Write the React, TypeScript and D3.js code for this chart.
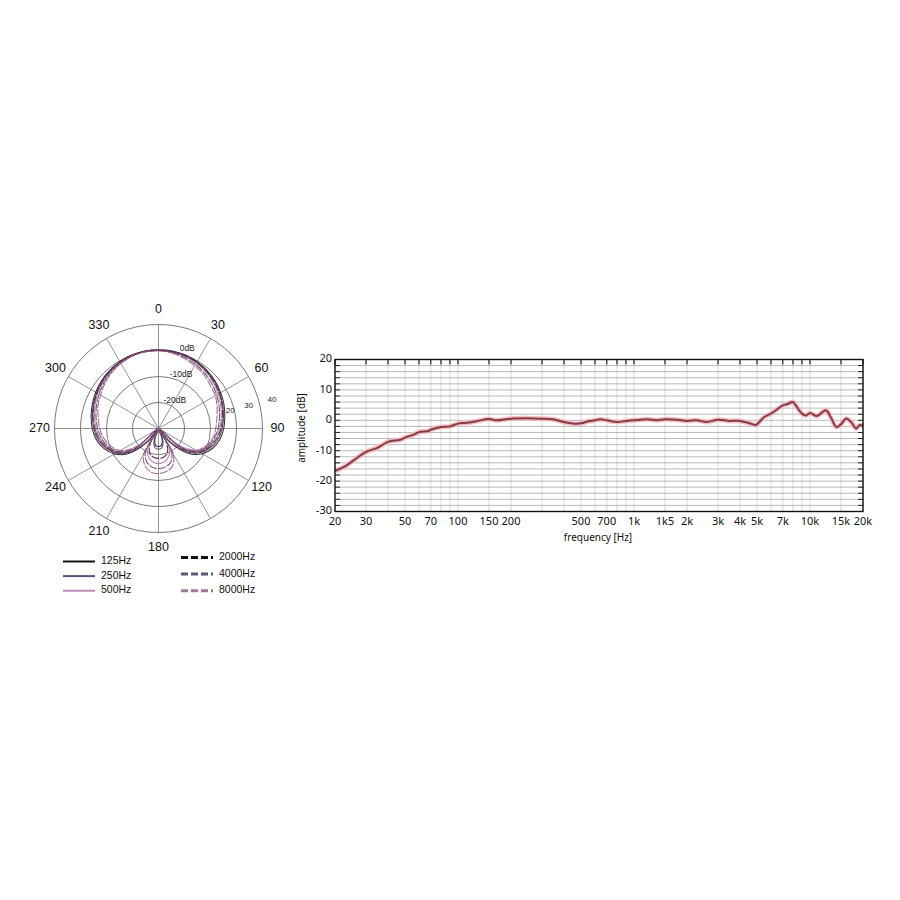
import React from "react";
import * as d3 from "d3";

// ---------- Polar data ----------
const polarAngles = d3.range(0, 360, 10);
const polarSeriesNames = ["125Hz", "250Hz", "500Hz", "2000Hz", "4000Hz", "8000Hz"];
const polar125 = [0.3, 0.3, 0.1, -0.3, -0.9, -1.6, -2.4, -3.2, -4.1, -4.9, -6.0, -7.8, -10.6, -15.2, -23, -30, -26, -23.5, -23, -23.5, -26, -30, -23, -15.0, -10.4, -7.6, -5.7, -4.5, -3.7, -2.9, -2.1, -1.4, -0.8, -0.3, 0.1, 0.3];
const polar250 = [0.2, 0.2, 0, -0.5, -1.1, -1.9, -2.8, -3.7, -4.6, -5.5, -6.7, -8.6, -11.4, -16.2, -24, -30, -25, -22.5, -22, -22.5, -25, -30, -24, -16.0, -11.2, -8.3, -6.3, -5.1, -4.2, -3.3, -2.5, -1.7, -1.0, -0.4, 0, 0.2];
const polar500 = [0, -0.1, -0.4, -0.9, -1.6, -2.5, -3.5, -4.5, -5.5, -6.5, -7.8, -9.6, -12.4, -18, -30, -22, -18.5, -17, -16.5, -17, -18.5, -22, -30, -17.5, -12.0, -9.2, -7.3, -6.0, -5.0, -4.0, -3.0, -2.1, -1.3, -0.6, -0.2, 0];
const polar2000 = [0.1, 0, -0.2, -0.7, -1.3, -2.1, -3.0, -4.0, -5.0, -6.0, -7.3, -9.2, -12.0, -17.5, -30, -24, -20, -18.8, -18.5, -18.8, -20, -24, -30, -17.0, -11.6, -8.8, -6.8, -5.5, -4.5, -3.6, -2.7, -1.9, -1.1, -0.5, -0.1, 0.1];
const polar4000 = [0, -0.3, -0.8, -1.5, -2.3, -3.2, -4.2, -5.2, -6.2, -7.1, -8.3, -10.0, -12.8, -19, -30, -20, -16.2, -15, -14.6, -15, -16.5, -20, -30, -18.5, -12.5, -9.6, -7.8, -6.6, -5.6, -4.6, -3.6, -2.6, -1.7, -0.9, -0.3, 0];
const polar8000 = [-0.2, -0.5, -1.3, -2.2, -2.9, -4.1, -4.8, -6.0, -7.2, -8.0, -8.8, -10.6, -13.2, -20, -30, -18.5, -14.5, -13.2, -12.7, -13.0, -14.8, -18.5, -30, -19.5, -13.0, -10.4, -8.6, -7.4, -6.5, -5.2, -4.3, -3.1, -2.0, -1.1, -0.4, -0.1];
const polarValues = [polar125, polar250, polar500, polar2000, polar4000, polar8000];
const polarColors = ["#2a1825", "#4a3e5e", "#b07aa6", "#4a2238", "#5e4870", "#a05c88"];
const legendColors = ["#111111", "#4f5a78", "#c08ab8", "#111111", "#555a78", "#a07898"];
const polarDashed = [false, false, false, true, true, true];
const ringLevels = [-20, -10, 0, 10];
const ringLabels = ["-20dB", "-10dB", "0dB"];
const angleLabels = [0, 30, 60, 90, 120, 180, 210, 240, 270, 300, 330];
const sideLabels = ["20", "30", "40"];

// ---------- Frequency response data ----------
const freqs = [20, 23.3, 26.6, 30, 35, 40, 47, 50, 56, 60, 68, 70, 80, 90, 100, 112, 127, 150, 166, 200, 245, 300, 346, 400, 462, 500, 552, 600, 641, 700, 800, 900, 1000, 1180, 1350, 1500, 1750, 2000, 2270, 2590, 3000, 3490, 4000, 4600, 4900, 5000, 5500, 6000, 6400, 7000, 7400, 8000, 8300, 9000, 9500, 10000, 10900, 12300, 13100, 14100, 15000, 16000, 17100, 18300, 19100, 20000];
const amps = [-16.7, -14.8, -12.4, -10.4, -9.0, -7.1, -6.4, -5.7, -4.7, -3.9, -3.5, -3.1, -2.2, -2.0, -1.1, -0.8, -0.3, 0.4, 0, 0.55, 0.66, 0.55, 0.33, -0.55, -1.1, -1.0, -0.33, 0, 0.33, 0, -0.55, -0.2, 0, 0.33, 0, 0.33, 0.2, -0.2, 0, -0.55, 0.2, -0.2, -0.2, -1.1, -1.6, -1.3, 1.1, 2.2, 3.3, 4.9, 5.3, 6.0, 4.9, 2.2, 1.6, 2.4, 1.4, 3.3, 1.1, -2.2, -1.3, 0.55, -0.55, -2.7, -1.6, -1.8];
const gridFreqs = [20, 30, 40, 50, 60, 70, 80, 90, 100, 150, 200, 300, 400, 500, 600, 700, 800, 900, 1000, 1500, 2000, 3000, 4000, 5000, 6000, 7000, 8000, 9000, 10000, 15000, 20000];
const xTickFreqs = [20, 30, 50, 70, 100, 150, 200, 500, 700, 1000, 1500, 2000, 3000, 4000, 5000, 7000, 10000, 15000, 20000];
const xTickLabels = ["20", "30", "50", "70", "100", "150", "200", "500", "700", "1k", "1k5", "2k", "3k", "4k", "5k", "7k", "10k", "15k", "20k"];
const yTicks = [20, 10, 0, -10, -20, -30];

export default function App() {
  // polar geometry
  const cx = 158.5, cy = 428.5;
  const r = d3.scaleLinear().domain([-30, 10]).range([0, 104]).clamp(true);
  const R = r(10);
  const toXY = (deg: number, rad: number): [number, number] => {
    const a = (deg * Math.PI) / 180;
    return [cx + rad * Math.sin(a), cy - rad * Math.cos(a)];
  };
  const polarLine = d3.line<[number, number]>().curve(d3.curveCatmullRomClosed.alpha(0.5));

  // frequency geometry
  const x = d3.scaleLog().domain([20, 20000]).range([335, 863]);
  const y = d3.scaleLinear().domain([-30, 20]).range([511.5, 359.5]);
  const freqLine = d3
    .line<number>()
    .x((_, i) => x(freqs[i]))
    .y((d) => y(d))
    .curve(d3.curveCatmullRom.alpha(0.5));
  const hGrid = d3.range(-30, 21, 2);

  const polarFont = "'Liberation Sans', Arial, sans-serif";
  const freqFont = "'Noto Sans', 'Open Sans', sans-serif";

  return (
    <svg width={900} height={900} style={{ position: "absolute", left: 0, top: 0, background: "#fff" }}>
      {/* ---------- Polar chart ---------- */}
      <g>
        {ringLevels.map((v) => (
          <circle key={v} cx={cx} cy={cy} r={r(v)} fill="none" stroke="#555" strokeWidth={0.8} />
        ))}
        {d3.range(0, 360, 30).map((a) => {
          const [x2, y2] = toXY(a, R);
          return <line key={a} x1={cx} y1={cy} x2={x2} y2={y2} stroke="#666" strokeWidth={0.7} />;
        })}
        {polarValues.map((vals, si) => {
          const pts = vals.map((v, i) => toXY(polarAngles[i], r(v)));
          return (
            <path
              key={si}
              d={polarLine(pts) || ""}
              fill="none"
              stroke={polarColors[si]}
              strokeWidth={1.1}
              strokeOpacity={0.9}
              strokeDasharray={polarDashed[si] ? "8,1.2" : undefined}
            />
          );
        })}
        {ringLabels.map((t, i) => {
          const rad = r(ringLevels[i]);
          return (
            <text key={t} x={cx + 10 + rad * 0.24} y={cy - rad - 1.5} fontSize={8.5} fontFamily={polarFont} textAnchor="middle" dominantBaseline="middle" fill="#222">
              {t}
            </text>
          );
        })}
        {sideLabels.map((t, i) => {
          const radii = [r(0) - 4, r(5) + 2, r(10) + 13];
          const [tx, ty] = toXY(76, radii[i]);
          return (
            <text key={t} x={tx} y={ty} fontSize={8} fontFamily={polarFont} textAnchor="middle" dominantBaseline="middle" fill="#222">
              {t}
            </text>
          );
        })}
        {angleLabels.map((a) => {
          const [tx, ty] = toXY(a, R + 15);
          return (
            <text key={a} x={tx} y={ty} fontSize={12.5} fontFamily={polarFont} textAnchor="middle" dominantBaseline="middle" fill="#111">
              {a}
            </text>
          );
        })}
        {/* legend */}
        {polarSeriesNames.map((name, i) => {
          const col = Math.floor(i / 3);
          const row = i % 3;
          const lx = col === 0 ? 63 : 181;
          const ly = col === 0 ? 561.5 + row * 14.6 : 557.5 + row * 16.6;
          return (
            <g key={name}>
              <line
                x1={lx}
                x2={lx + 32}
                y1={ly}
                y2={ly}
                stroke={legendColors[i]}
                strokeWidth={polarDashed[i] ? 3 : 2}
                strokeDasharray={polarDashed[i] ? "7,3" : undefined}
              />
              <text x={lx + 38} y={ly} fontSize={10.5} fontFamily={polarFont} dominantBaseline="middle" fill="#111">
                {name}
              </text>
            </g>
          );
        })}
      </g>

      {/* ---------- Frequency response chart ---------- */}
      <g>
        {gridFreqs.map((f) => (
          <line key={"v" + f} x1={x(f)} x2={x(f)} y1={y(20)} y2={y(-30)} stroke="#cfcfcf" strokeWidth={0.8} />
        ))}
        {hGrid.map((v) => (
          <line key={"h" + v} x1={x(20)} x2={x(20000)} y1={y(v)} y2={y(v)} stroke="#a8a8a8" strokeWidth={0.8} />
        ))}
        {hGrid.map((v) => (
          <g key={"t" + v}>
            <line x1={x(20)} x2={x(20) + 5} y1={y(v)} y2={y(v)} stroke="#222" strokeWidth={1} />
            <line x1={x(20000) - 5} x2={x(20000)} y1={y(v)} y2={y(v)} stroke="#222" strokeWidth={1} />
          </g>
        ))}
        {gridFreqs.map((f) => (
          <line key={"tt" + f} x1={x(f)} x2={x(f)} y1={y(20)} y2={y(20) + 5} stroke="#222" strokeWidth={1.2} />
        ))}
        <path d={freqLine(amps) || ""} fill="none" stroke="#f2b3bb" strokeWidth={5} strokeOpacity={0.8} strokeLinejoin="round" />
        <path d={freqLine(amps) || ""} fill="none" stroke="#863a42" strokeWidth={2} strokeLinejoin="round" />
        <rect x={x(20)} y={y(20)} width={x(20000) - x(20)} height={y(-30) - y(20)} fill="none" stroke="#111" strokeWidth={1.4} />
        {yTicks.map((v) => (
          <text key={"yl" + v} x={x(20) - 3} y={y(v)} fontSize={11} fontFamily={freqFont} textAnchor="end" dominantBaseline="middle" fill="#111">
            {v}
          </text>
        ))}
        {xTickFreqs.map((f, i) => (
          <text key={"xl" + f} x={x(f)} y={y(-30) + 11} fontSize={11} fontFamily={freqFont} textAnchor="middle" dominantBaseline="middle" fill="#111">
            {xTickLabels[i]}
          </text>
        ))}
        <text x={598} y={538} fontSize={10} fontFamily={freqFont} textAnchor="middle" dominantBaseline="middle" fill="#111">
          frequency [Hz]
        </text>
        <text
          transform={`translate(302,428) rotate(-90)`}
          fontSize={10}
          fontFamily={freqFont}
          textAnchor="middle"
          dominantBaseline="middle"
          fill="#111"
        >
          amplitude [dB]
        </text>
      </g>
    </svg>
  );
}
